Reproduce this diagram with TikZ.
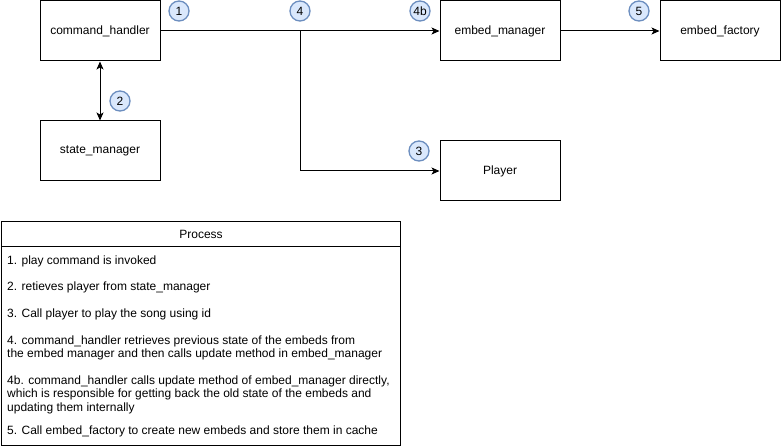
\documentclass[tikz,border=0pt]{standalone}
\usepackage{fontspec}
\setmainfont{Liberation Sans}
\usetikzlibrary{arrows.meta}
\definecolor{numfill}{HTML}{DAE8FC}
\definecolor{numdraw}{HTML}{6C8EBF}
\tikzset{
  box/.style={draw, line width=1pt, minimum width=120pt, minimum height=60pt, inner sep=0pt, font=\fontsize{12}{14}\selectfont},
  num/.style={circle, draw=numdraw, fill=numfill, line width=1.3pt, minimum size=20pt, inner sep=0pt, font=\fontsize{12}{14}\selectfont},
  arr/.style={line width=1pt, -{Stealth[length=8pt,width=7pt,inset=2pt]}},
  item/.style={anchor=west, inner sep=0pt, align=left, font=\fontsize{12}{13.5}\selectfont},
}
\begin{document}
\begin{tikzpicture}[x=1pt,y=-1pt]
\useasboundingbox (0,0) rectangle (781,446);
\node[box] (ch) at (100,31) {command\_handler};
\node[box] (sm) at (100,151) {state\_manager};
\node[box] (em) at (500,31) {embed\_manager};
\node[box] (ef) at (720,31) {embed\_factory};
\node[box] (pl) at (500,171) {Player};
\coordinate (j) at (300,31);
\draw[arr] (ch.east) -- (em.west);
\draw[arr] (j) |- (pl.west);
\draw[arr] (em.east) -- (ef.west);
\draw[line width=1pt, {Stealth[length=8pt,width=7pt,inset=2pt]}-{Stealth[length=8pt,width=7pt,inset=2pt]}] (ch.south) -- (sm.north);
\node[num] (n1) at (179,11) {1};
\node[num] (n2) at (120,101) {2};
\node[num] (n4) at (300,11) {4};
\node[num] (n4b) at (420,11) {4b};
\node[num] (n5) at (639,11) {5};
\node[num] (n3) at (419,151) {3};
\node[draw, line width=1pt, minimum width=399pt, minimum height=25pt, inner sep=0pt, anchor=north west, font=\fontsize{12}{14}\selectfont] (ptitle) at (1,221) {Process};
\node[draw, line width=1pt, minimum width=399pt, minimum height=199pt, inner sep=0pt, anchor=north west] (pbody) at (1,246) {};
\node[item] (i1) at (7,261) {1. play command is invoked};
\node[item] (i2) at (7,287) {2. retieves player from state\_manager};
\node[item] (i3) at (7,314) {3. Call player to play the song using id};
\node[item] (i4) at (7,348) {4. command\_handler retrieves previous state of the embeds from\\the embed manager and then calls update method in embed\_manager};
\node[item] (i4b) at (7,394.5) {4b. command\_handler calls update method of embed\_manager directly,\\which is responsible for getting back the old state of the embeds and\\updating them internally};
\node[item] (i5) at (7,431) {5. Call embed\_factory to create new embeds and store them in cache};
\end{tikzpicture}
\end{document}
